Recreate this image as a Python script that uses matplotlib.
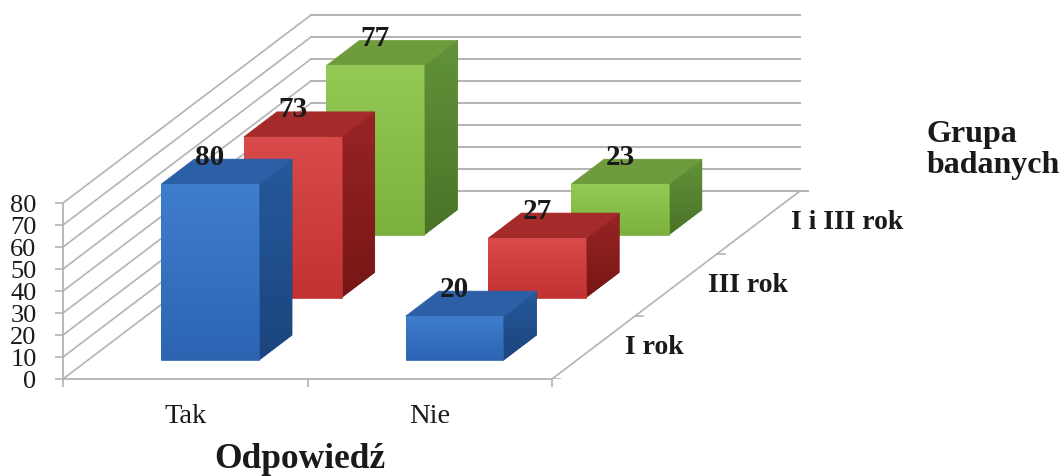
import numpy as np
import matplotlib
matplotlib.use("Agg")
import matplotlib.pyplot as plt
from matplotlib.patches import Polygon
from matplotlib.colors import LinearSegmentedColormap

plt.rcParams["font.family"] = ["Liberation Serif", "DejaVu Serif"]

# ── data ─────────────────────────────────────────
categories = ["Tak", "Nie"]
series_names = ["I rok", "III rok", "I i III rok"]
i_rok = [80, 20]
iii_rok = [73, 27]
i_iii_rok = [77, 23]
series_values = [i_rok, iii_rok, i_iii_rok]
value_ticks = [0, 10, 20, 30, 40, 50, 60, 70, 80]

# front, side, top colours per series (front/side: top -> bottom gradient)
series_colors = [
    {"front": ("#3f7ecd", "#2c64b2"), "side": ("#25599b", "#1b457e"), "top": "#2b5fa6"},
    {"front": ("#d94a4a", "#c23232"), "side": ("#982424", "#771616"), "top": "#a52b2b"},
    {"front": ("#93c954", "#7cb13e"), "side": ("#62923a", "#4a7327"), "top": "#6e9c3d"},
]

# ── layout (pixels on the 1062x476 canvas) ───────
W, H = 1062, 476
X0, Y0 = 63, 97                 # front-left corner of the floor
PX_CAT, PX_VAL = 244.5, 2.2     # pixels per category / per value unit
DEPTH_PX = (248, 188)           # oblique depth of the whole floor
depth_x = DEPTH_PX[0] / PX_CAT
depth_y = DEPTH_PX[1] / PX_VAL
GAP, BAR_W, BAR_D = 0.3, 0.4, 0.4
GRID = "#b3b3b3"
TEXT = "#1a1a1a"


def proj(x, d, z):
    """oblique projection: d = depth fraction (0 front .. 1 back)"""
    return x + d * depth_x, z + d * depth_y


fig = plt.figure(figsize=(W / 100, H / 100), dpi=100)
ax = fig.add_axes([X0 / W, Y0 / H, (W - X0) / W, (H - Y0) / H])


def face(pts, c_top, c_bot, z):
    xy = np.array([proj(*p) for p in pts])
    base = Polygon(xy, closed=True, facecolor=c_bot, edgecolor=c_bot, lw=0.5, zorder=z)
    ax.add_patch(base)
    if c_top != c_bot:
        cmap = LinearSegmentedColormap.from_list("g", [c_top, c_bot])
        im = ax.imshow(np.linspace(0, 1, 64)[:, None], cmap=cmap, origin="upper",
                       extent=(xy[:, 0].min(), xy[:, 0].max(), xy[:, 1].min(), xy[:, 1].max()),
                       aspect="auto", interpolation="bilinear", zorder=z)
        im.set_clip_path(base)


# back wall grid + side wall lines
for v in value_ticks:
    xa, ya = proj(0, 1, v)
    xb, yb = proj(2, 1, v)
    ax.plot([xa, xb + 8 / PX_CAT * (v == 0)], [ya, yb], color=GRID, lw=1.4, zorder=1)
    ax.plot([0, xa], [v, ya], color=GRID, lw=1.2, zorder=1)

# right floor edge with series ticks
xr0, yr0 = proj(2, 0, 0)
xr1, yr1 = proj(2, 1, 0)
ax.plot([xr0, xr1], [yr0, yr1], color=GRID, lw=1.2, zorder=1)
for k in range(len(series_names) + 1):
    xt, yt = proj(2, k / len(series_names), 0)
    ax.plot([xt, xt + 8 / PX_CAT], [yt, yt], color=GRID, lw=1.2, zorder=1)

# bars, back row first
n = len(series_names)
for k in reversed(range(n)):
    d0 = (k + GAP) / n
    d1 = d0 + BAR_D / n
    col = series_colors[k]
    for j, v in enumerate(series_values[k]):
        x0, x1 = j + GAP, j + GAP + BAR_W
        z = 10 + (n - k) * 3
        face([(x1, d0, 0), (x1, d1, 0), (x1, d1, v), (x1, d0, v)], *col["side"], z)
        face([(x0, d0, v), (x1, d0, v), (x1, d1, v), (x0, d1, v)], col["top"], col["top"], z)
        face([(x0, d0, 0), (x1, d0, 0), (x1, d0, v), (x0, d0, v)], *col["front"], z + 1)
        ax.annotate(str(v), xy=proj((x0 + x1) / 2, d0, v), xytext=(0, 19.5),
                    textcoords="offset points", ha="center", va="center",
                    fontsize=21, fontweight="bold", color=TEXT, zorder=z + 2)

# series labels along the depth axis
for k, name in enumerate(series_names):
    ax.annotate(name, xy=proj(2, (k + 0.5) / n, 0), xytext=(23, 0),
                textcoords="offset points", ha="left", va="center",
                fontsize=20, fontweight="bold", color=TEXT)

# axes styling
for s in ["top", "right"]:
    ax.spines[s].set_visible(False)
ax.spines["left"].set_bounds(0, 80)
ax.spines["bottom"].set_bounds(0, 2)
for s in ["left", "bottom"]:
    ax.spines[s].set_color(GRID)
    ax.spines[s].set_linewidth(1.3)
ax.set_yticks(value_ticks)
ax.set_xticks([0, 1, 2])
ax.set_xticks([0.5, 1.5], minor=True)
ax.set_xticklabels(categories, minor=True)
ax.tick_params(axis="y", length=6, width=1.2, color=GRID, pad=13, labelsize=19, labelcolor=TEXT)
ax.tick_params(axis="x", which="major", length=6, width=1.2, color=GRID, labelbottom=False)
ax.tick_params(axis="x", which="minor", length=0, pad=18, labelsize=20.5, labelcolor=TEXT)
ax.set_xlim(0, (W - X0) / PX_CAT)
ax.set_ylim(0, (H - Y0) / PX_VAL)
ax.patch.set_visible(False)

fig.text(300 / W, 1 - 468 / H, "Odpowiedź", ha="center", va="baseline",
         fontsize=25.5, fontweight="bold", color=TEXT)
fig.text(927 / W, 1 - 150 / H, "Grupa\nbadanych", ha="left", va="center",
         fontsize=23, fontweight="bold", color=TEXT, linespacing=1.1)

fig.savefig("out.png", dpi=100)
